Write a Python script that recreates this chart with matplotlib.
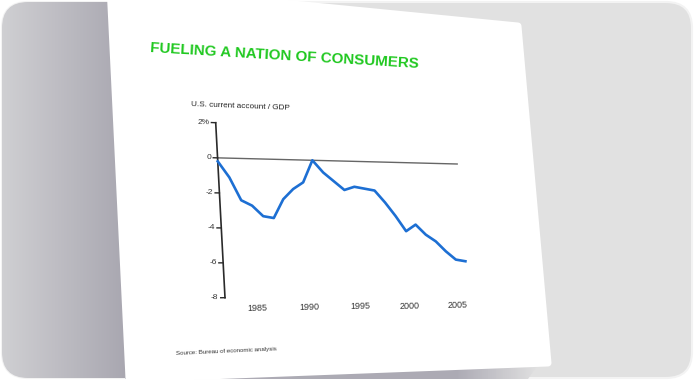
import numpy as np
import matplotlib
matplotlib.use('Agg')
import matplotlib.pyplot as plt
import matplotlib.transforms as mtransforms
from matplotlib.patches import FancyBboxPatch, Polygon
from matplotlib.colors import LinearSegmentedColormap

# data
years = list(range(1982, 2007))
current_account = [-0.2, -1.1, -2.4, -2.7, -3.3, -3.4, -2.3, -1.7, -1.3, 0.0,
                   -0.7, -1.2, -1.7, -1.5, -1.6, -1.7, -2.4, -3.2, -4.1, -3.7,
                   -4.3, -4.7, -5.3, -5.8, -5.9]
y_ticks = [2, 0, -2, -4, -6, -8]
y_labels = ['2%', '0', '-2', '-4', '-6', '-8']
x_ticks = [1985, 1990, 1995, 2000, 2005]
x_labels = ['1985', '1990', '1995', '2000', '2005']

title = 'FUELING A NATION OF CONSUMERS'
ylabel = 'U.S. current account / GDP'
source = 'Source: Bureau of economic analysis'

W, H_PX = 694, 380


class Persp(mtransforms.Transform):
    """projective warp in display space (slide seen at an angle)"""
    input_dims = 2
    output_dims = 2
    is_separable = False

    def __init__(self, m):
        super().__init__()
        self.m = m

    def transform_non_affine(self, xy):
        xy = np.asarray(xy, dtype=float).reshape(-1, 2)
        p = np.column_stack([xy, np.ones(len(xy))]) @ self.m.T
        return p[:, :2] / p[:, 2:3]


def homography(src, dst):
    A, b = [], []
    for (x, y), (u, v) in zip(src, dst):
        A.append([x, y, 1, 0, 0, 0, -u * x, -u * y]); b.append(u)
        A.append([0, 0, 0, x, y, 1, -v * x, -v * y]); b.append(v)
    h = np.linalg.solve(np.array(A), np.array(b))
    return np.append(h, 1).reshape(3, 3)


fig = plt.figure(figsize=(W / 100, H_PX / 100), dpi=100)
fig.patch.set_facecolor('white')

# background, slide card (image pixel coords)
bg = fig.add_axes([0, 0, 1, 1])
bg.axis('off')

frame = FancyBboxPatch((2, 2), 690, 376, boxstyle='round,pad=0,rounding_size=26',
                       fc='#e1e1e1', ec='#f3f3f3', lw=1.5, zorder=0)
bg.add_patch(frame)

left_cmap = LinearSegmentedColormap.from_list('left', ['#d0d0d3', '#a6a4ae'])
im = bg.imshow(np.linspace(0, 1, 200)[None, :], extent=(0, 135, 380, 0),
               cmap=left_cmap, aspect='auto', zorder=1)
im.set_clip_path(frame)

shadow_cmap = LinearSegmentedColormap.from_list(
    'shadow', [(0, '#aeadb6'), (0.8, '#acaab4'), (1, '#e1e1e1')])
sh = bg.imshow(np.linspace(0, 1, 200)[None, :], extent=(125, 540, 379, 362),
               cmap=shadow_cmap, aspect='auto', zorder=1)
sh_clip = Polygon([(125, 362), (540, 362), (528, 379), (125, 379)], transform=bg.transData)
sh.set_clip_path(sh_clip)

slide = Polygon([(110, -14), (518, 26), (548, 363), (129, 379)], closed=True,
                fc='white', ec='white', lw=5, joinstyle='round', zorder=3)
bg.add_patch(slide)

bg.set_xlim(0, W)
bg.set_ylim(H_PX, 0)

font = 'Liberation Sans'
bg.text(150, 51.5, title, color='#20c820', fontsize=10.9, fontweight='bold',
        family=font, rotation=-3.4, rotation_mode='anchor', ha='left',
        va='baseline', zorder=5)
bg.text(191.5, 106.5, ylabel, color='#222222', fontsize=5.9, family=font,
        rotation=-2.2, rotation_mode='anchor', ha='left', va='baseline', zorder=5)
bg.text(176, 355, source, color='#333333', fontsize=4.4, family=font,
        rotation=2.6, rotation_mode='anchor', ha='left', va='baseline', zorder=5)

# chart, drawn flat then warped onto the slide
ax = fig.add_axes([0.3, 0.2, 0.4, 0.5])
ax.set_xlim(1981, 2007)
ax.set_ylim(-9, 3)
ax.axis('off')

anchors = [(1982, 2), (1982, -8), (2006, 0), (2006, -6)]
anchor_px = np.array([(215.7, 122.7), (225.0, 297.7), (461.0, 164.1), (465.5, 262.9)])
anchor_px[:, 1] = H_PX - anchor_px[:, 1]
M = homography(ax.transData.transform(anchors), anchor_px)
tr = ax.transData + Persp(M)

ax.plot([years[0], 2005.6], [0, 0], color='#666666', lw=1.0, transform=tr, clip_on=False)
ax.plot([years[0], years[0]], [y_ticks[0], y_ticks[-1]], color='#2a2a2a', lw=1.2,
        transform=tr, clip_on=False)
for v, lab in zip(y_ticks, y_labels):
    ax.plot([years[0] - 0.4, years[0]], [v, v], color='#2a2a2a', lw=1.0,
            transform=tr, clip_on=False)
    ax.text(years[0], v, lab, transform=tr + mtransforms.Affine2D().translate(-6.5, 0),
            ha='right', va='center', fontsize=6, family=font, color='#333333',
            rotation=-1)
for yr, lab in zip(x_ticks, x_labels):
    ax.text(yr, -8.6, lab, transform=tr, ha='center', va='center', fontsize=6.5,
            family=font, color='#333333', rotation=1.5)

ax.plot(years, current_account, color='#1d6fd3', lw=1.9, transform=tr,
        clip_on=False, solid_joinstyle='round')

fig.savefig('out.png', dpi=100)
